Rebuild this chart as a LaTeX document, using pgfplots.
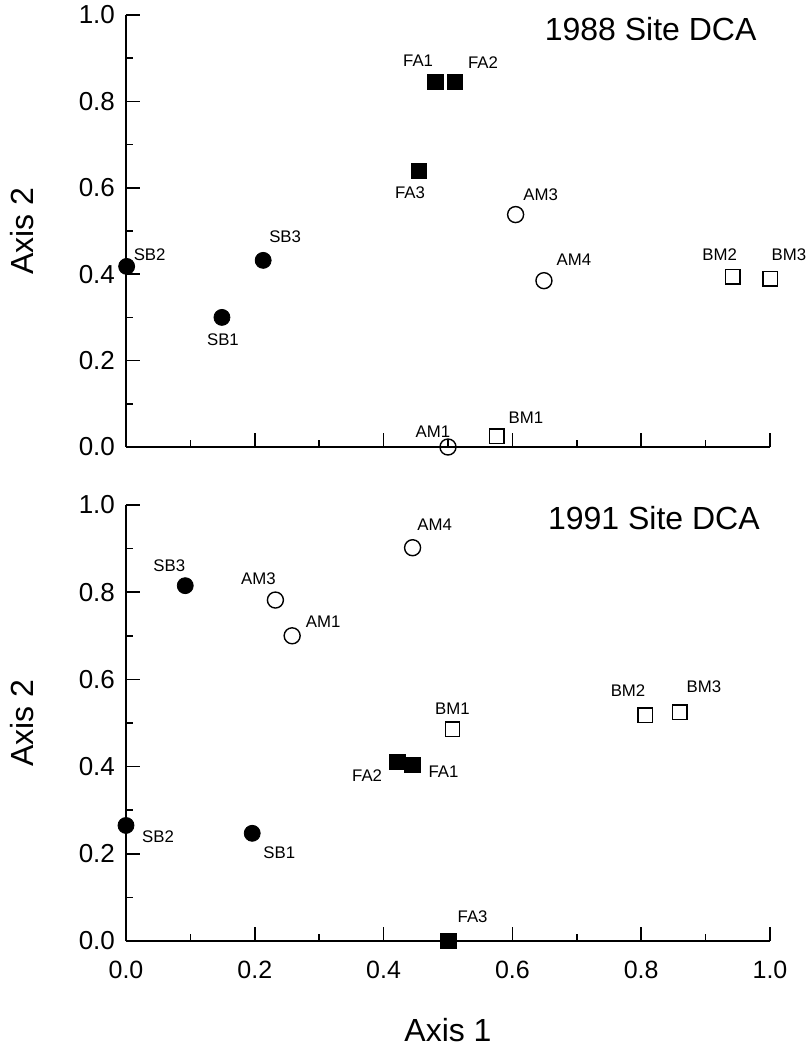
\documentclass[border=0pt]{standalone}
\usepackage{pgfplots}
\pgfplotsset{compat=1.18}
\usepackage{pgfplotstable}
\usepackage{fontspec}
\setmainfont{Liberation Sans}

% 1988 site scores (x, y) with label offsets in pt
\pgfplotstableread{
x y label dx dy
0.001 0.418 SB2 11.5 6
0.149 0.300 SB1 0.5 -11
0.213 0.432 SB3 11 12
}\aSB
\pgfplotstableread{
x y label dx dy
0.480 0.845 FA1 -8.5 10.5
0.511 0.845 FA2 14 9.5
0.455 0.639 FA3 -4.5 -11
}\aFA
\pgfplotstableread{
x y label dx dy
0.500 0.000 AM1 -7.5 7.5
0.605 0.538 AM3 12.5 10
0.649 0.385 AM4 15 10.5
}\aAM
\pgfplotstableread{
x y label dx dy
0.576 0.025 BM1 14.5 9
0.942 0.394 BM2 -6.5 11
1.000 0.389 BM3 9.5 12
}\aBM

% 1991 site scores
\pgfplotstableread{
x y label dx dy
0.000 0.265 SB2 16 -5.5
0.196 0.247 SB1 13.5 -9.5
0.092 0.815 SB3 -8 10
}\bSB
\pgfplotstableread{
x y label dx dy
0.421 0.411 FA2 -15 -7
0.445 0.404 FA1 15.5 -3.5
0.501 0.000 FA3 12 12
}\bFA
\pgfplotstableread{
x y label dx dy
0.258 0.700 AM1 15.5 7
0.232 0.782 AM3 -8.5 10.5
0.445 0.902 AM4 11 11.5
}\bAM
\pgfplotstableread{
x y label dx dy
0.507 0.486 BM1 0 10
0.806 0.518 BM2 -8.5 12.5
0.860 0.525 BM3 12 12.5
}\bBM

\pgfplotsset{
  dca/.style={
    width=322pt, scale only axis,
    xmin=0, xmax=1, ymin=0, ymax=1,
    axis x line*=bottom, axis y line*=left,
    clip=false,
    xtick={0,0.2,0.4,0.6,0.8,1}, ytick={0,0.2,0.4,0.6,0.8,1},
    minor x tick num=1, minor y tick num=1,
    tick align=inside,
    major tick length=7pt, minor tick length=3.5pt,
    every tick/.style={black, line width=0.8pt},
    axis line style={line width=0.8pt},
    /pgf/number format/assume math mode=true,
    tick label style={
      /pgf/number format/fixed, /pgf/number format/fixed zerofill,
      /pgf/number format/precision=1},
    yticklabel style={font=\fontsize{13}{13}\selectfont, xshift=-2pt},
    xticklabel style={font=\fontsize{12.5}{12.5}\selectfont, yshift=-6.5pt},
    ylabel={Axis 2},
    ylabel style={font=\fontsize{16}{16}\selectfont,
      at={(axis description cs:-0.1615,0.5)}, anchor=center},
  },
  site/.style={only marks, black,
    visualization depends on={\thisrow{dx}\as\dx},
    visualization depends on={\thisrow{dy}\as\dy},
    nodes near coords, point meta=explicit symbolic,
    nodes near coords style={font=\fontsize{8.4}{8.4}\selectfont,
      anchor=center, xshift=\dx pt, yshift=\dy pt, text=black}},
  sb/.style={site, mark=*, mark size=4pt},
  fa/.style={site, mark=square*, mark size=3.9pt},
  am/.style={site, mark=o, mark size=4pt, mark options={line width=0.7pt, fill=white}},
  bm/.style={site, mark=square, mark size=3.6pt, mark options={line width=0.7pt, fill=white}},
}

\begin{document}
\begin{tikzpicture}
\path[use as bounding box] (-63pt,-54.5pt) rectangle (341.5pt,470.5pt);

\begin{axis}[dca, height=216pt, at={(0,247pt)}, xticklabels={}]
\addplot[sb] table[meta=label] {\aSB};
\addplot[fa] table[meta=label] {\aFA};
\addplot[am] table[meta=label] {\aAM};
\addplot[bm] table[meta=label] {\aBM};
\node[anchor=east, font=\fontsize{16}{16}\selectfont] at (rel axis cs:0.99,0.967) {1988 Site DCA};
\end{axis}

\begin{axis}[dca, height=218pt, at={(0,0)},
  xlabel={Axis 1},
  xlabel style={font=\fontsize{16}{16}\selectfont,
    at={(axis description cs:0.5,-0.205)}, anchor=center}]
\addplot[sb] table[meta=label] {\bSB};
\addplot[fa] table[meta=label] {\bFA};
\addplot[am] table[meta=label] {\bAM};
\addplot[bm] table[meta=label] {\bBM};
\node[anchor=east, font=\fontsize{16}{16}\selectfont] at (rel axis cs:0.995,0.97) {1991 Site DCA};
\end{axis}
\end{tikzpicture}
\end{document}
